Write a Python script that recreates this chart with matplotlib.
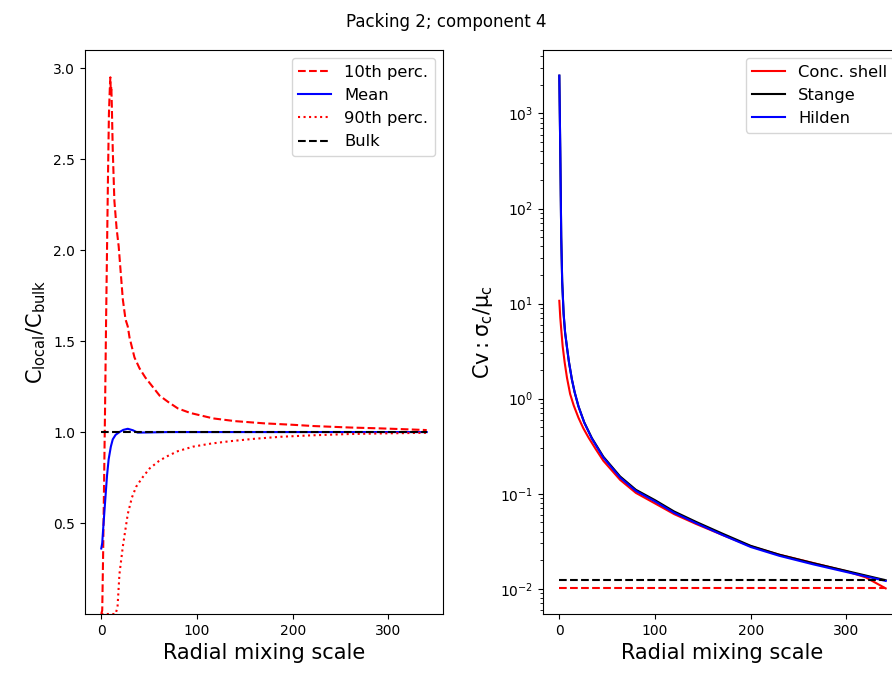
import matplotlib
matplotlib.use("Agg")
import matplotlib.pyplot as plt
import numpy as np

# left panel: local concentration percentiles vs radial mixing scale
x_p10 = [0, 1, 2, 3, 4, 5, 6, 7, 8, 9, 9.5, 10, 10.5, 11, 12, 13.7, 16, 18.2, 22.5, 25.3, 27.7,
         29.5, 34.7, 40, 46, 52, 61, 70, 80, 93, 117, 140, 170, 200, 222, 260, 293, 320, 340]
p10 = [0.0, 0.02, 0.35, 0.75, 1.15, 1.6, 2.0, 2.4, 2.75, 2.9, 2.95, 2.86, 2.9, 2.8, 2.55, 2.27,
       2.12, 2.02, 1.73, 1.62, 1.58, 1.52, 1.41, 1.35, 1.3, 1.26, 1.2, 1.165, 1.13, 1.105, 1.075,
       1.06, 1.048, 1.04, 1.033, 1.025, 1.02, 1.015, 1.011]
x_p90 = [0, 5, 10, 15, 17, 19, 22.5, 27.7, 32, 36.5, 43, 50.5, 60, 68, 80, 96, 115, 135, 160,
         187, 220, 258, 300, 340]
p90 = [0.0, 0.0, 0.0, 0.0, 0.04, 0.22, 0.37, 0.55, 0.64, 0.70, 0.75, 0.80, 0.84, 0.865, 0.895,
       0.92, 0.937, 0.95, 0.963, 0.974, 0.982, 0.989, 0.993, 0.996]
x_mean = [0, 1, 2, 4.2, 6, 7.7, 10, 12, 15, 19, 23, 27.7, 33, 38, 50, 70, 100, 200, 340]
mean = [0.36, 0.39, 0.47, 0.63, 0.76, 0.85, 0.92, 0.96, 0.985, 1.0, 1.012, 1.018, 1.01, 0.997,
        0.998, 1.0, 1.0, 1.0, 1.0]
bulk_x = [0, 340]
bulk = [1.0, 1.0]

# right panel: coefficient of variation
x_hil = [0, 1, 2, 3, 4.5, 6, 8, 10, 13.2, 16, 20, 26, 34, 46, 63.5, 80, 100, 120, 143, 170, 200,
         230, 265, 300, 341]
cv_hilden = [2500, 400, 50, 17, 7.8, 5.0, 3.47, 2.45, 1.58, 1.17, 0.83, 0.56, 0.38, 0.24, 0.148,
             0.107, 0.083, 0.063, 0.049, 0.037, 0.0275, 0.0222, 0.0181, 0.0150, 0.0121]
cv_stange = [2500, 400, 50, 17, 7.8, 5.0, 3.47, 2.45, 1.58, 1.17, 0.83, 0.565, 0.385, 0.245,
             0.152, 0.110, 0.0855, 0.065, 0.0505, 0.0382, 0.0283, 0.0228, 0.0186, 0.0154, 0.0123]
x_shell = [0, 1, 2.1, 3.5, 5.6, 8, 11.3, 15, 20, 25, 30.5, 38, 46, 63.5, 80, 100, 120, 143, 170,
           200, 230, 265, 300, 320, 341]
cv_shell = [10.7, 7.1, 5.2, 3.55, 2.4, 1.66, 1.12, 0.85, 0.63, 0.49, 0.39, 0.295, 0.222, 0.140,
            0.102, 0.079, 0.061, 0.048, 0.037, 0.0280, 0.0228, 0.0187, 0.0153, 0.0132, 0.0101]
ref_x = [0, 340]
stange_ref = [0.0123, 0.0123]
shell_ref = [0.0101, 0.0101]

fig = plt.figure(figsize=(8.92, 6.73), dpi=100)
ax1 = fig.add_axes([85 / 892, 59 / 673, 358 / 892, 564 / 673])
ax2 = fig.add_axes([543 / 892, 59 / 673, 359 / 892, 564 / 673])

ax1.plot(x_p10, p10, 'r--', label='10th perc.')
ax1.plot(x_mean, mean, 'b-', label='Mean')
ax1.plot(x_p90, p90, 'r:', label='90th perc.')
ax1.plot(bulk_x, bulk, 'k--', label='Bulk')
ax1.set_ylim(0, 3.1)
ax1.set_yticks([0.5, 1.0, 1.5, 2.0, 2.5, 3.0])
ax1.set_xticks([0, 100, 200, 300])
ax1.set_xlabel('Radial mixing scale', fontsize=15)
ax1.set_ylabel(r'$\mathregular{C_{local}/C_{bulk}}$', fontsize=15)
ax1.legend(loc='upper right', fontsize=11.8)

ax2.plot(x_shell, cv_shell, 'r-', label='Conc. shell')
ax2.plot(x_hil, cv_stange, 'k-', label='Stange')
ax2.plot(x_hil, cv_hilden, 'b-', label='Hilden')
ax2.plot(ref_x, stange_ref, 'k--')
ax2.plot(ref_x, shell_ref, 'r--')
ax2.set_yscale('log')
ax2.set_xticks([0, 100, 200, 300])
ax2.set_xlabel('Radial mixing scale', fontsize=15)
ax2.set_ylabel(r'$\mathregular{Cv: \sigma_c/\mu_c}$', fontsize=15)
ax2.legend(loc='upper right', fontsize=11.8)

fig.suptitle('Packing 2; component 4', fontsize=12)
fig.savefig('out.png', dpi=100)
